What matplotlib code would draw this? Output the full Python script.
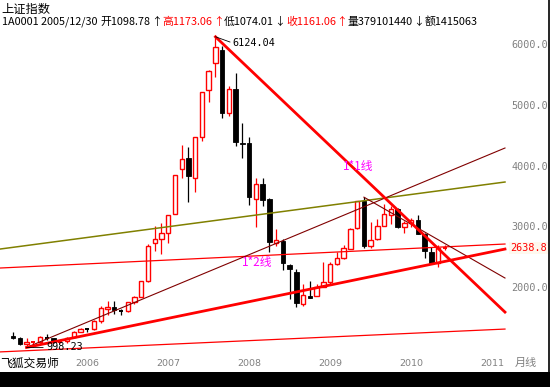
# Shanghai Composite monthly candles, Apr 2005 - Aug 2010, with trend lines
import numpy as np
import matplotlib
matplotlib.use('Agg')
import matplotlib.pyplot as plt
import matplotlib.transforms as mtransforms
from matplotlib.patches import Rectangle
from matplotlib.lines import Line2D

plt.rcParams['font.family'] = ['Noto Sans CJK SC', 'DejaVu Sans']

# monthly OHLC, first month = 2005-04
opens = [1181.0, 1158.0, 1060.0, 1078.0, 1083.0, 1162.0, 1155.0, 1092.0, 1098.8,
         1163.9, 1261.0, 1299.0, 1299.0, 1441.0, 1641.0, 1672.0, 1612.0, 1601.0, 1754.0, 1838.0, 2100.0,
         2728.2, 2785.0, 2883.0, 3196.0, 3937.0, 4131.0, 3800.0, 4466.0, 5238.0, 5692.0, 5914.0, 4866.0,
         5265.0, 4365.0, 4365.0, 3453.0, 3690.0, 3442.0, 2727.0, 2757.0, 2358.0, 2250.0, 1721.0, 1845.0,
         1849.0, 1994.0, 2079.0, 2379.0, 2477.0, 2630.0, 2965.0, 3420.0, 2668.0, 2780.0, 3002.0, 3188.0,
         3289.0, 2987.0, 3060.0, 3103.0, 2866.0, 2568.0, 2399.0, 2630.0]
highs = [1250.3, 1163.0, 1146.5, 1083.0, 1182.0, 1223.6, 1157.8, 1118.9, 1173.1,
         1268.2, 1319.8, 1314.0, 1445.9, 1677.0, 1757.4, 1757.8, 1631.9, 1752.4, 1841.8, 2102.0, 2698.9,
         2994.3, 3049.8, 3184.0, 3848.0, 4335.0, 4311.0, 4471.0, 5218.8, 5582.0, 6124.04, 5965.0, 5312.0,
         5522.0, 4695.0, 4472.0, 3786.0, 3786.0, 3462.0, 2952.0, 2786.0, 2372.0, 2294.0, 2050.0, 2100.0,
         2043.0, 2402.0, 2404.0, 2579.0, 2688.0, 2975.0, 3412.0, 3478.0, 3068.0, 3123.0, 3361.0, 3338.0,
         3306.8, 3078.0, 3127.0, 3181.7, 2886.0, 2650.0, 2686.0, 2690.0]
lows = [1134.5, 1043.9, 998.23, 1004.1, 1066.0, 1129.7, 1067.8, 1074.3, 1074.0,
        1151.7, 1256.5, 1257.7, 1290.0, 1407.6, 1541.0, 1556.0, 1541.5, 1584.0, 1717.0, 1837.0, 2079.0,
        2589.0, 2541.5, 2723.0, 3196.0, 3798.0, 3404.0, 3563.0, 4404.0, 5041.0, 5462.0, 4778.0, 4812.0,
        4330.0, 4123.0, 3357.0, 2990.8, 3333.0, 2566.5, 2670.0, 2284.0, 1802.0, 1664.93, 1678.0, 1814.0,
        1844.0, 1990.0, 2037.0, 2353.0, 2461.0, 2625.0, 2960.0, 2640.0, 2640.0, 2766.0, 3002.0, 3039.0,
        2963.0, 2890.0, 2993.0, 2865.0, 2481.0, 2382.0, 2319.7, 2600.0]
closes = [1159.2, 1060.7, 1080.9, 1083.0, 1162.8, 1155.6, 1092.8, 1099.3, 1161.06,
          1258.1, 1299.0, 1298.3, 1440.2, 1641.3, 1672.2, 1612.7, 1601.2, 1752.4, 1838.0, 2099.3, 2675.5,
          2786.3, 2881.1, 3184.0, 3841.3, 4109.7, 3820.7, 4471.0, 5218.8, 5552.3, 5954.8, 4871.8, 5261.6,
          4383.4, 4348.5, 3472.7, 3693.1, 3433.4, 2736.1, 2775.7, 2397.4, 2293.8, 1728.8, 1871.2, 1820.8,
          1990.7, 2082.9, 2373.2, 2477.6, 2632.9, 2959.4, 3412.1, 2667.7, 2779.4, 2995.9, 3195.3, 3277.1,
          2989.3, 3051.9, 3109.1, 2870.6, 2592.2, 2398.4, 2637.5, 2638.8]

first_year, first_month = 2005, 4
year_labels = ['2006', '2007', '2008', '2009', '2010', '2011']

# trend lines: (month index start, price start, month index end, price end)
thick_red = [(2, 998.23, 72.9, 2622), (30, 6124.04, 72.9, 1582)]
thin_red = [(-1.93, 2309, 72.9, 2705), (-1.93, 925, 72.9, 1302)]
maroon = [(2, 998.23, 72.9, 4289), (52, 3478, 72.9, 2144)]
olive = [(-1.93, 2622, 72.9, 3728)]

y_ticks = [2000, 3000, 4000, 5000, 6000]
last_price = 2638.8

W, H = 550, 387
fig = plt.figure(figsize=(W / 100, H / 100), dpi=100)
fig.patch.set_facecolor('white')
ax = fig.add_axes([0, (H - 353) / H, 507 / W, (353 - 28) / H])
ax.set_xlim(-1.93, 73.2)
ax.set_ylim(907, 6269)
for s in ax.spines.values():
    s.set_visible(False)
ax.set_xticks([])

# candles
idx = np.arange(len(opens))
bw = 0.66
for i in idx:
    o, h, l, c = opens[i], highs[i], lows[i], closes[i]
    up = c >= o
    col = 'red' if up else 'black'
    top, bot = max(o, c), min(o, c)
    if top - bot < 12:
        ax.vlines(i, l, h, color=col, lw=0.9, zorder=2)
        ax.hlines((o + c) / 2, i - bw / 2, i + bw / 2, color=col, lw=1.4, zorder=2)
        continue
    if up:
        ax.vlines(i, top, h, color=col, lw=0.9, zorder=2)
        ax.vlines(i, l, bot, color=col, lw=0.9, zorder=2)
        ax.add_patch(Rectangle((i - bw / 2, bot), bw, top - bot, facecolor='white',
                               edgecolor='red', lw=1.0, zorder=3))
    else:
        ax.vlines(i, l, h, color=col, lw=0.9, zorder=2)
        ax.add_patch(Rectangle((i - bw / 2, bot), bw, top - bot, facecolor='black',
                               edgecolor='black', lw=0.6, zorder=3))

# trend lines
for x0, y0, x1, y1 in olive:
    ax.plot([x0, x1], [y0, y1], color='#808000', lw=1.1, zorder=4)
for x0, y0, x1, y1 in thin_red:
    ax.plot([x0, x1], [y0, y1], color='red', lw=0.9, zorder=4)
for x0, y0, x1, y1 in maroon:
    ax.plot([x0, x1], [y0, y1], color='#800000', lw=0.8, zorder=4)
for x0, y0, x1, y1 in thick_red:
    ax.plot([x0, x1], [y0, y1], color='red', lw=2.0, zorder=5)

# labels on the lines
ax.text(48.9, 3992, '1*1线', color='#FF00FF', fontsize=8.5, va='center', ha='left', zorder=6)
ax.text(33.9, 2408, '1*2线', color='#FF00FF', fontsize=8.5, va='center', ha='left', zorder=6)

# high / low marks
i_hi = int(np.argmax(highs))
i_lo = int(np.argmin(lows))
ax.annotate(f'{highs[i_hi]:.2f}', (i_hi, highs[i_hi]), xytext=(12.5, -4.5),
            textcoords='offset points', fontsize=7.3, family='DejaVu Sans Mono',
            va='center', ha='left', zorder=6,
            arrowprops=dict(arrowstyle='-', color='black', lw=0.6, shrinkA=0, shrinkB=0,
                            relpos=(0, 0.5)))
ax.annotate(f'{lows[i_lo]:.2f}', (i_lo, lows[i_lo]), xytext=(14, 0),
            textcoords='offset points', fontsize=7.3, family='DejaVu Sans Mono',
            va='center', ha='left', zorder=6,
            arrowprops=dict(arrowstyle='-', color='black', lw=0.6, shrinkA=0, shrinkB=0,
                            relpos=(0, 0.5)))

# right price scale
ax.yaxis.tick_right()
ax.set_yticks(y_ticks)
ax.set_yticklabels([f'{v:.1f}' for v in y_ticks], family='DejaVu Sans Mono', fontsize=7.3,
                   color='#808080')
ax.tick_params(axis='y', length=0, pad=3)
trans_y = mtransforms.blended_transform_factory(ax.transAxes, ax.transData)
ax.text(1 + 3 / 507, last_price, f'{last_price:.1f}', transform=trans_y, color='red',
        family='DejaVu Sans Mono', fontsize=7.3, va='center', ha='left',
        bbox=dict(boxstyle='square,pad=0.1', facecolor='#FFF8EE', edgecolor='none'))

# year labels at January of each year
trans_x = mtransforms.blended_transform_factory(ax.transData, fig.transFigure)
for lab in year_labels:
    k = (int(lab) - first_year) * 12 + (1 - first_month)
    ax.text(k + 0.2, 1 - 363 / H, lab, transform=trans_x, color='#808080',
            family='DejaVu Sans', fontsize=6.8, va='center', ha='left', clip_on=False)

# bottom texts
fig.text(0, 1 - 363 / H, '飞狐交易师', fontsize=8.5, va='center', ha='left', color='black')
fig.text(515 / W, 1 - 363 / H, '月线', fontsize=8.0, va='center', ha='left', color='#808080')

# header
fig.text(1 / W, 1 - 9 / H, '上证指数', fontsize=8.8, va='center', ha='left', color='black')
header = [('1A0001 2005/12/30 ', 'black'), ('开1098.78', 'black'), ('↑', 'black'),
          ('高1173.06', 'red'), ('↑', 'red'), ('低1074.01', 'black'),
          ('↓', 'black'), ('收1161.06', 'red'), ('↑', 'red'),
          ('量379101440', 'black'), ('↓', 'black'), ('额1415063', 'black')]
renderer = fig.canvas.get_renderer()
xpos = 2.0
for txt, col in header:
    t = fig.text(xpos / W, 1 - 22 / H, txt, fontsize=7.8, va='center', ha='left', color=col)
    ext = t.get_window_extent(renderer=renderer)
    xpos = ext.x1 + 0.5

# frame pieces
fig.patches.append(Rectangle((0, 0), 1, 15 / H, transform=fig.transFigure,
                             facecolor='black', edgecolor='none'))
fig.lines.append(Line2D([548.5 / W, 548.5 / W], [15 / H, 1], transform=fig.transFigure,
                        color='black', lw=1.2))

fig.savefig('out.png', dpi=100)
